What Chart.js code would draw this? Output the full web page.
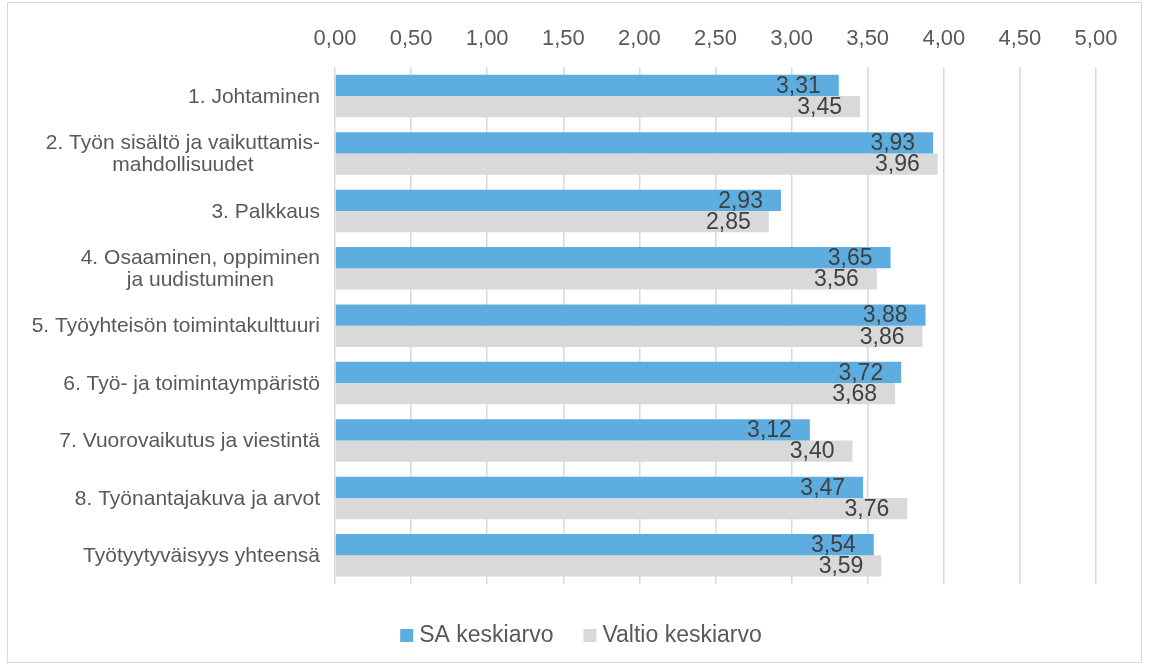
<!DOCTYPE html>
<html>
<head>
<meta charset="utf-8">
<script src="https://cdn.jsdelivr.net/npm/chart.js@4"></script>
<style>
  html, body { margin: 0; padding: 0; background: #fff; }
  #wrap { position: relative; width: 1152px; height: 669px; }
  #frame { position: absolute; left: 7px; top: 2px; width: 1135px; height: 661px; border: 1px solid #D9D9D9; box-sizing: border-box; }
  canvas { position: absolute; left: 0; top: 0; }
</style>
</head>
<body>
<div id="wrap">
  <div id="frame"></div>
  <canvas id="chart" width="1152" height="669"></canvas>
</div>
<script>
const categories = [
    ['1. Johtaminen'],
    ['2. Työn sisältö ja vaikuttamis-', 'mahdollisuudet'],
    ['3. Palkkaus'],
    ['4. Osaaminen, oppiminen', 'ja uudistuminen'],
    ['5. Työyhteisön toimintakulttuuri'],
    ['6. Työ- ja toimintaympäristö'],
    ['7. Vuorovaikutus ja viestintä'],
    ['8. Työnantajakuva ja arvot'],
    ['Työtyytyväisyys yhteensä']
];
const saValues = [3.31, 3.93, 2.93, 3.65, 3.88, 3.72, 3.12, 3.47, 3.54];
const valtioValues = [3.45, 3.96, 2.85, 3.56, 3.86, 3.68, 3.40, 3.76, 3.59];
const seriesNames = ['SA keskiarvo', 'Valtio keskiarvo'];
const seriesColors = ['#5DADE0', '#D9D9D9'];

const FONT = '"Liberation Sans", Arial, sans-serif';
const fmt = v => v.toFixed(2).replace('.', ',');

// category labels: right edge fixed, extra lines centred under the first
const categoryLabels = {
    id: 'categoryLabels',
    afterDraw(chart) {
        const ctx = chart.ctx;
        const y = chart.scales.y;
        ctx.save();
        ctx.font = '21px ' + FONT;
        ctx.fillStyle = '#595959';
        ctx.textBaseline = 'middle';
        ctx.textAlign = 'center';
        const right = chart.chartArea.left - 15;
        const lineH = 22;
        categories.forEach((lines, i) => {
            const cy = y.getPixelForTick(i);
            const w = Math.max(...lines.map(l => ctx.measureText(l).width));
            const cx = right - w / 2;
            const y0 = cy - (lines.length - 1) * lineH / 2;
            lines.forEach((l, j) => ctx.fillText(l, cx, y0 + j * lineH + 1));
        });
        ctx.restore();
    }
};

// value labels inside bar ends
const valueLabels = {
    id: 'valueLabels',
    afterDatasetsDraw(chart) {
        const ctx = chart.ctx;
        ctx.save();
        ctx.font = '23px ' + FONT;
        ctx.fillStyle = '#404040';
        ctx.textAlign = 'right';
        ctx.textBaseline = 'middle';
        chart.data.datasets.forEach((ds, di) => {
            chart.getDatasetMeta(di).data.forEach((bar, i) => {
                ctx.fillText(fmt(ds.data[i]), bar.x - 18, bar.y + 1);
            });
        });
        ctx.restore();
    }
};

// legend at the bottom, drawn by hand for tighter box/text spacing
const bottomLegend = {
    id: 'bottomLegend',
    afterDraw(chart) {
        const ctx = chart.ctx;
        ctx.save();
        ctx.font = '23px ' + FONT;
        ctx.textBaseline = 'middle';
        ctx.textAlign = 'left';
        const box = 13, gapText = 6, gapItem = 30, cy = 636;
        const items = chart.data.datasets.map(ds => ({ text: ds.label, color: ds.backgroundColor, w: ctx.measureText(ds.label).width }));
        const total = items.reduce((s, it) => s + box + gapText + it.w, 0) + gapItem * (items.length - 1);
        let x = 581 - total / 2;
        items.forEach(it => {
            ctx.fillStyle = it.color;
            ctx.fillRect(x, cy - 7, box, box);
            ctx.fillStyle = '#595959';
            ctx.fillText(it.text, x + box + gapText, cy);
            x += box + gapText + it.w + gapItem;
        });
        ctx.restore();
    }
};

new Chart(document.getElementById('chart').getContext('2d'), {
    type: 'bar',
    data: {
        labels: categories.map(c => c.join(' ')),
        datasets: [
            {
                label: seriesNames[0],
                data: saValues,
                backgroundColor: seriesColors[0],
                categoryPercentage: 0.74,
                barPercentage: 1.0
            },
            {
                label: seriesNames[1],
                data: valtioValues,
                backgroundColor: seriesColors[1],
                categoryPercentage: 0.74,
                barPercentage: 1.0
            }
        ]
    },
    options: {
        indexAxis: 'y',
        responsive: false,
        animation: false,
        layout: { padding: { left: 335, right: 56, top: 11, bottom: 85 } },
        scales: {
            x: {
                position: 'top',
                min: 0,
                max: 5,
                ticks: {
                    stepSize: 0.5,
                    color: '#595959',
                    font: { family: FONT, size: 22 },
                    padding: 15,
                    callback: v => fmt(v)
                },
                grid: { color: '#D9D9D9', lineWidth: 1.5, drawTicks: false },
                border: { display: false }
            },
            y: {
                display: false
            }
        },
        plugins: {
            legend: { display: false },
            tooltip: { enabled: false }
        }
    },
    plugins: [categoryLabels, valueLabels, bottomLegend]
});
</script>
</body>
</html>
